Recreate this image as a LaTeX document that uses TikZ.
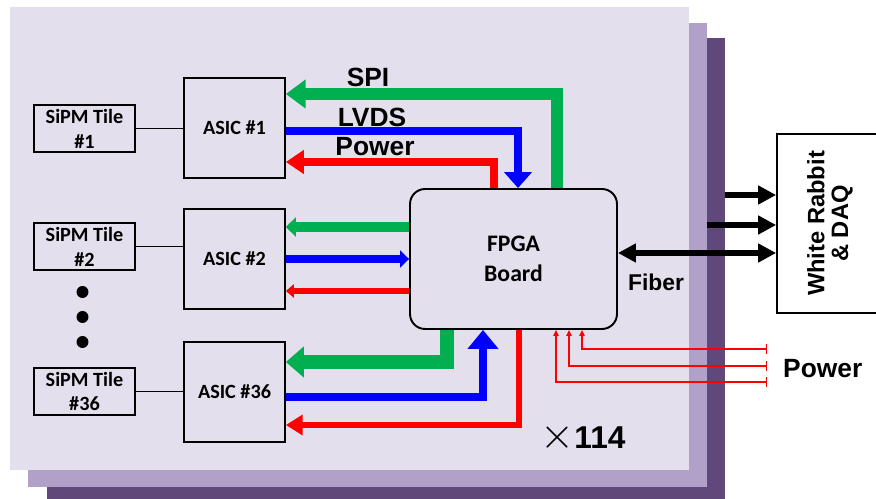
\documentclass[tikz,border=0pt]{standalone}
\usepackage{fontspec}
\setmainfont{Carlito}
\setsansfont{Liberation Sans}
\usetikzlibrary{arrows.meta,calc}
\definecolor{SpiClr}{RGB}{0,176,80}
\definecolor{LvdsClr}{RGB}{0,0,255}
\definecolor{PwrClr}{RGB}{255,0,0}
\definecolor{FrontClr}{RGB}{228,223,236}
\definecolor{MidClr}{RGB}{177,160,199}
\definecolor{BackClr}{RGB}{96,73,122}

\begin{document}
\begin{tikzpicture}[x=0.02cm,y=-0.02cm,
  box/.style={draw=black,line width=1pt,align=center,inner sep=0pt,font=\bfseries\fontsize{11.5}{14.2}\selectfont},
  lbl/.style={font=\sffamily\bfseries\fontsize{15}{18}\selectfont}]
\useasboundingbox (0,0) rectangle (876,499);

\fill[BackClr] (47,38) rectangle (725,510);
\fill[MidClr] (28,23) rectangle (707,487);
\fill[FrontClr] (10,7) rectangle (689,470);

\node[box,minimum width=2.02cm,minimum height=0.94cm] (T1) at (84.5,128.5) {SiPM Tile\\\#1};
\node[box,minimum width=2.02cm,minimum height=0.94cm] (T2) at (84.5,246.5) {SiPM Tile\\\#2};
\node[box,minimum width=2.02cm,minimum height=0.94cm] (T36) at (84.5,391.5) {SiPM Tile\\\#36};

\node[box,minimum width=2.02cm,minimum height=2cm] (A1) at (234.5,128) {ASIC \#1};
\node[box,minimum width=2.02cm,minimum height=2cm] (A2) at (234.5,259) {ASIC \#2};
\node[box,minimum width=2.02cm,minimum height=2cm] (A36) at (234.5,392) {ASIC \#36};

\node[box,line width=1.1pt,rounded corners=0.3cm,minimum width=4.14cm,minimum height=2.8cm,
  font=\bfseries\fontsize{13.5}{17}\selectfont] (F) at (513.5,259) {FPGA\\Board};

\node[draw=black,line width=1pt,fill=white,minimum width=2.12cm,minimum height=3.58cm] (W) at (830,223.5) {};
\node[lbl,rotate=90,align=center,font=\sffamily\bfseries\fontsize{13.5}{13.6}\selectfont] (WT) at (W) {White Rabbit\\\& DAQ};

\foreach \y in {292,317,342}
  \fill (82.5,\y) circle (0.12cm);

\draw[line width=1pt] (T1.east) -- (A1.west |- T1.east);
\draw[line width=1pt] (T2.east) -- (A2.west |- T2.east);
\draw[line width=1pt] (T36.east) -- (A36.west |- T36.east);

\draw[SpiClr,line width=6.8pt,-{Triangle[length=11.3pt,width=15.9pt]}] ($(F.north)+(43.5,0)$) |- ($(A1.east)+(0,-34)$);
\draw[LvdsClr,line width=4.5pt,-{Triangle[length=9pt,width=15.3pt]}] ($(A1.east)+(0,3)$) -| ($(F.north)+(4.5,0)$);
\draw[PwrClr,line width=4pt,-{Triangle[length=10.2pt,width=13pt]}] ($(F.north)+(-19.5,0)$) |- ($(A1.east)+(0,34)$);

\draw[SpiClr,line width=5.7pt,-{Triangle[length=5.7pt,width=10.8pt]}] ($(F.west)+(0,-32)$) -- ($(A2.east)+(0,-32)$);
\draw[LvdsClr,line width=4.8pt,-{Triangle[length=5.1pt,width=9.6pt]}] (A2.east) -- (F.west);
\draw[PwrClr,line width=3.7pt,-{Triangle[length=4.5pt,width=7.4pt]}] ($(F.west)+(0,32)$) -- ($(A2.east)+(0,32)$);

\draw[SpiClr,line width=8pt,-{Triangle[length=10.2pt,width=17pt]}] ($(F.south)+(-66.5,0)$) |- ($(A36.east)+(0,-30)$);
\draw[LvdsClr,line width=4.2pt,-{Triangle[length=10.8pt,width=17pt]}] ($(A36.east)+(0,5)$) -| ($(F.south)+(-30.5,0)$);
\draw[PwrClr,line width=3.7pt,-{Triangle[length=9.6pt,width=11.3pt]}] ($(F.south)+(5.5,0)$) |- ($(A36.east)+(0,33)$);

\node[lbl] (SPI) at (368,77) {SPI};
\node[lbl] (LVDS) at (372,117) {LVDS};
\node[lbl] (PWR) at (375,147) {Power};

\coordinate (B1) at (725,195);
\coordinate (B2) at (707,225);
\coordinate (B3) at ($(F.east)+(0,-6)$);
\draw[line width=3.4pt,-{Triangle[length=10.2pt,width=10.2pt]}] (B1) -- (W.west |- B1);
\draw[line width=3.4pt,-{Triangle[length=10.2pt,width=10.2pt]}] (B2) -- (W.west |- B2);
\draw[line width=3.4pt,{Triangle[length=10.2pt,width=10.2pt]}-{Triangle[length=10.2pt,width=10.2pt]}] (B3) -- (W.west |- B3);
\node[lbl,font=\sffamily\bfseries\fontsize{13}{15}\selectfont] (FIB) at (656,282) {Fiber};

\coordinate (V1) at (767,349);
\coordinate (V2) at (767,366);
\coordinate (V3) at (767,382);
\draw[PwrClr,line width=0.85pt,{Bar[width=5.7pt]}-{Triangle[length=3.4pt,width=3pt]}] (V1) -| ($(F.south)+(68.5,0)$);
\draw[PwrClr,line width=0.85pt,{Bar[width=5.7pt]}-{Triangle[length=3.4pt,width=3pt]}] (V2) -| ($(F.south)+(55.5,0)$);
\draw[PwrClr,line width=0.85pt,{Bar[width=5.7pt]}-{Triangle[length=3.4pt,width=3pt]}] (V3) -| ($(F.south)+(42.5,0)$);
\node[lbl,anchor=west] (PIN) at (777,369) {Power};

\node[inner sep=0pt] (N) at (583,438) {\fontsize{27}{30}\selectfont$\times$\fontsize{18}{20}\selectfont\sffamily\bfseries 114};

\end{tikzpicture}
\end{document}
